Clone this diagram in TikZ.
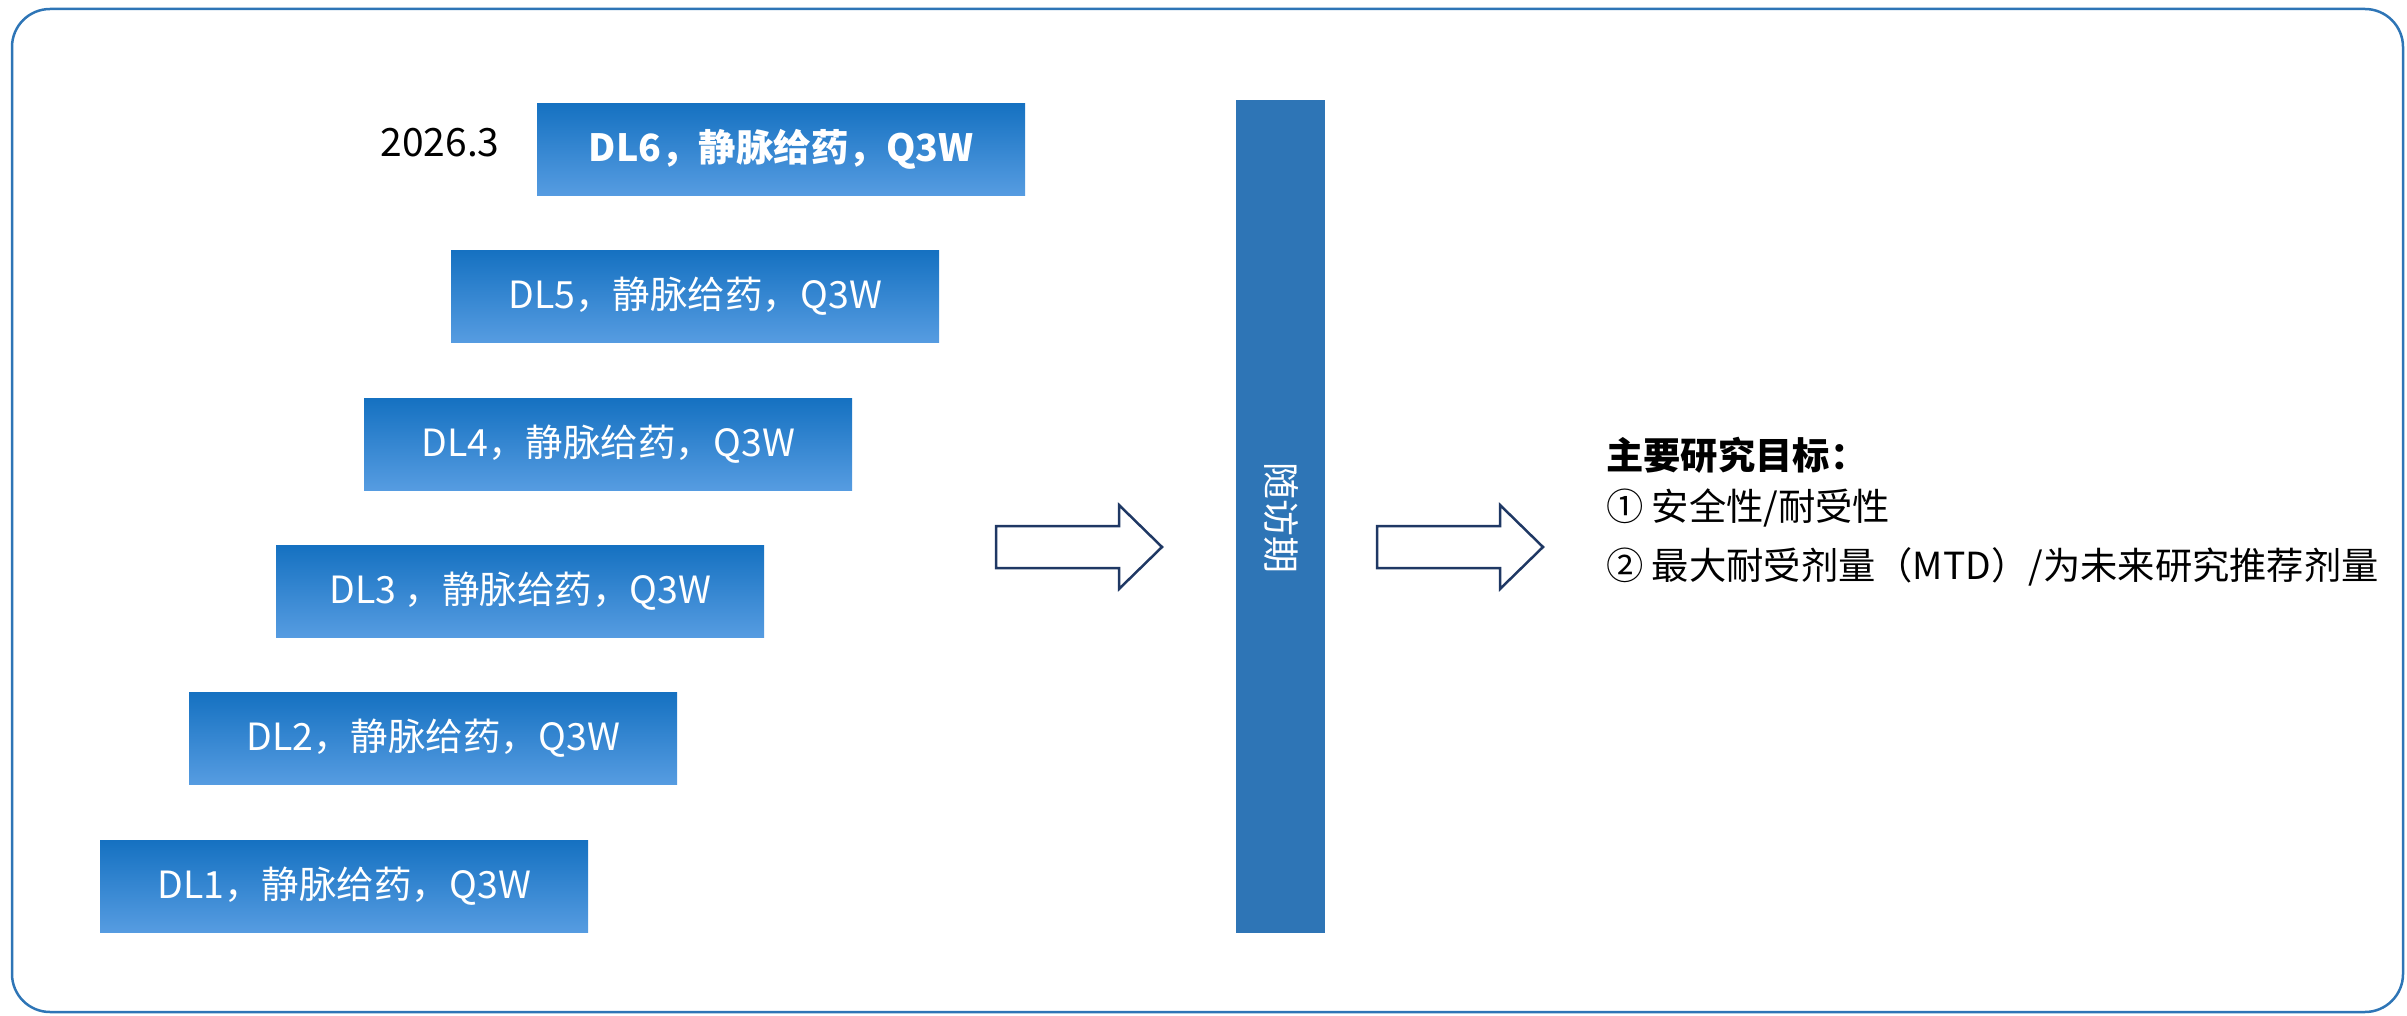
\documentclass[tikz,border=0pt]{standalone}
\usepackage{fontspec}
\setmainfont{Noto Sans CJK SC}
\definecolor{frameblue}{HTML}{2E75B6}
\definecolor{gradtop}{HTML}{1571C1}
\definecolor{gradbot}{HTML}{569CE1}
\definecolor{navy}{HTML}{1F3864}
\begin{document}
\begin{tikzpicture}[x=1pt,y=-1pt,
  dlbox/.style={anchor=north west, minimum width=488pt, minimum height=92pt, inner sep=0pt,
    top color=gradtop, bottom color=gradbot, draw=none, text=white, font=\fontsize{37.5}{40}\selectfont},
  blockarrow/.style={draw=navy, line width=2.5pt, fill=white, line join=miter},
  goaltext/.style={anchor=base west, inner sep=0pt, font=\fontsize{37.3}{40}\selectfont}]
\useasboundingbox (0,0) rectangle (2407,1016);
\draw[frameblue, line width=2.5pt, rounded corners=38pt] (12,9) rectangle (2403,1012);

\node[dlbox] (dl6) at (537,103) {\bfseries DL6，静脉给药，Q3W};
\node[dlbox] (dl5) at (451,250) {DL5，静脉给药，Q3W};
\node[dlbox] (dl4) at (364,398) {DL4，静脉给药，Q3W};
\node[dlbox] (dl3) at (276,545) {DL3 ，静脉给药，Q3W};
\node[dlbox] (dl2) at (189,692) {DL2，静脉给药，Q3W};
\node[dlbox] (dl1) at (100,840) {DL1，静脉给药，Q3W};
\node[font=\fontsize{39}{42}\selectfont, inner sep=0pt] (date) at (440,143) {2026.3};

\node[anchor=north west, fill=frameblue, minimum width=89pt, minimum height=833pt, inner sep=0pt] (bar) at (1236,100) {};
\node[rotate=-90, text=white, font=\fontsize{37}{40}\selectfont, inner sep=0pt] (barlabel) at (1281,518) {随访期};

\draw[blockarrow] (996,526) -- (1119,526) -- (1119,505) -- (1162,547) -- (1119,589) -- (1119,568) -- (996,568) -- cycle;
\draw[blockarrow] (1377,526) -- (1500,526) -- (1500,505) -- (1543,547) -- (1500,589) -- (1500,568) -- (1377,568) -- cycle;

\node[goaltext, font=\bfseries\fontsize{37.3}{40}\selectfont] (goal) at (1606,469) {主要研究目标：};
\node[goaltext] (g1) at (1606,520) {① 安全性/耐受性};
\node[goaltext] (g2) at (1606,579) {② 最大耐受剂量（MTD）/为未来研究推荐剂量};
\end{tikzpicture}
\end{document}
